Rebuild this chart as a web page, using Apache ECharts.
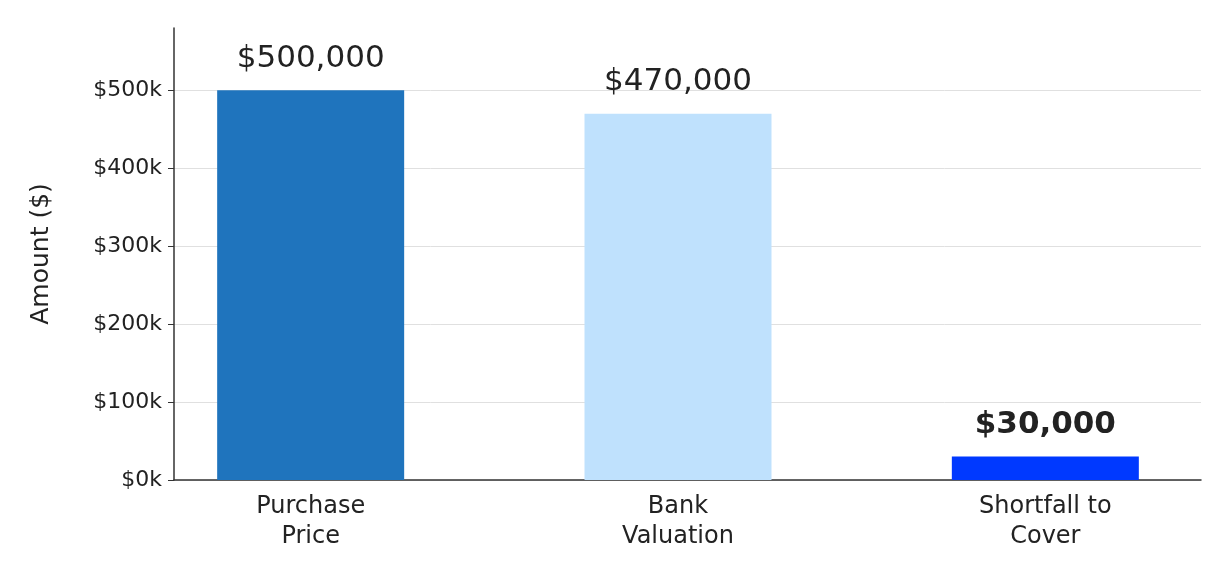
<!DOCTYPE html>
<html><head><meta charset="utf-8">
<script src="https://cdn.jsdelivr.net/npm/echarts@6/dist/echarts.min.js"></script>
<style>html,body{margin:0;padding:0;background:#fff}#c{width:1229px;height:580px}</style>
</head><body><div id="c"></div>
<script>
const categories = ['Purchase\nPrice', 'Bank\nValuation', 'Shortfall to\nCover'];
const values = [500000, 470000, 30000];
const colors = ['#1f74bd', '#bfe1fd', '#0039ff'];
const labelTexts = ['$500,000', '$470,000', '$30,000'];

const chart = echarts.init(document.getElementById('c'));
chart.setOption({
  animation: false,
  textStyle: { fontFamily: 'DejaVu Sans' },
  grid: [
    { left: 174, right: 28, top: 28, bottom: 100 },
    { left: 127, width: 1120.5, top: 28, bottom: 100 }
  ],
  xAxis: [
    { type: 'category', gridIndex: 0, data: ['', '', ''],
      axisLine: { lineStyle: { color: '#333', width: 1.5 } },
      axisTick: { show: false }, axisLabel: { show: false } },
    { type: 'category', gridIndex: 1, data: categories,
      axisLine: { show: false }, axisTick: { show: false },
      axisLabel: { fontSize: 24, color: '#222', lineHeight: 30, margin: 12 } }
  ],
  yAxis: [
    { type: 'value', gridIndex: 0, min: 0, max: 580000, interval: 100000,
      name: 'Amount ($)', nameLocation: 'middle', nameGap: 120, nameRotate: 90,
      nameTextStyle: { fontSize: 25, color: '#222' },
      axisLine: { show: true, lineStyle: { color: '#333', width: 1.5 } },
      axisTick: { show: true, length: 6, lineStyle: { color: '#333' } },
      axisLabel: { fontSize: 22, color: '#222', margin: 12, showMaxLabel: false,
        formatter: v => v > 500000 ? '' : '$' + (v / 1000) + 'k' },
      splitLine: { show: true, showMaxLine: false, lineStyle: { color: '#e0e0e0' } } },
    { type: 'value', gridIndex: 1, min: 0, max: 580000, show: false, splitLine: { show: false } }
  ],
  series: [{
    type: 'bar', xAxisIndex: 1, yAxisIndex: 1, barWidth: 187,
    data: values.map((v, i) => ({
      value: v, itemStyle: { color: colors[i] },
      label: { show: true, position: 'top', distance: 16, fontSize: 31,
        fontWeight: i === 2 ? 'bold' : 'normal', color: '#222',
        formatter: labelTexts[i] }
    }))
  }]
});
</script></body></html>
